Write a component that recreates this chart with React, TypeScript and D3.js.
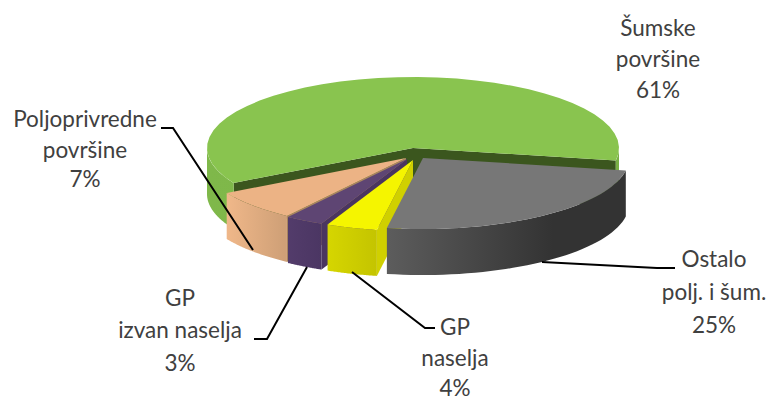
import * as d3 from "d3";

// values, clockwise starting at the green slice
const categories = ["Šumske površine", "Ostalo polj. i šum.", "GP naselja", "GP izvan naselja", "Poljoprivredne površine"];
const categoryLines = [["Šumske", "površine"], ["Ostalo", "polj. i šum."], ["GP", "naselja"], ["GP", "izvan naselja"], ["Poljoprivredne", "površine"]];
const values = [61, 25, 4, 3, 7];

const topColors = ["#89c44f", "#777777", "#f5f500", "#5e4573", "#ecb385"];
const faceColors = ["#3b561e", "#333333", "#d0d000", "#4a3560", "#a98660"];
const wallStops = [
  ["#7fb84a", "#79b045"],
  ["#5c5c5c", "#333333"],
  ["#d6d600", "#c4c400"],
  ["#533c6b", "#4b3663"],
  ["#efb789", "#cfa077"],
];

// layout
const width = 775;
const height = 401;
const cx = 413;
const cy = 148;
const rx = 206;
const ry = 71;
const depth = 46;
const startDeg = 240.5;
const drawOrder = [0, 4, 3, 2, 1];
const explode = [[0, 0], [10, 10], [0, 12], [-6, 11], [-7, 10]];
const wallGradX = [[-rx, rx], [-34, 130], [-86, -36], [-120, -86], [-178, -122]];
const labelPos = [
  { x: 658, y: [36, 67, 98] },
  { x: 714, y: [267, 300, 333] },
  { x: 455, y: [335, 366, 396] },
  { x: 180, y: [306, 338, 371] },
  { x: 85, y: [127, 158, 187] },
];
const leaders: [number, number][][] = [
  [],
  [[675, 268], [657, 268], [542, 262]],
  [[435, 328], [425, 328], [352, 272]],
  [[254, 339], [267, 339], [307, 267]],
  [[161, 128], [173, 128], [253, 250]],
];

const toRad = Math.PI / 180;
const pie = d3.pie<number>().sort(null).startAngle(startDeg * toRad).endAngle((startDeg + 360) * toRad);
const slices = pie(values);

const pt = (a: number): [number, number] => [rx * Math.sin(a), -ry * Math.cos(a)];
const rim = (a0: number, a1: number) => d3.range(0, 41).map((i) => pt(a0 + ((a1 - a0) * i) / 40));
const line = d3.line();

// top of a slice
const topPath = (a0: number, a1: number) => line([[0, 0], ...rim(a0, a1)]) + "Z";

// outer wall, only the part of the rim that faces the viewer
const wallPaths = (a0: number, a1: number) => {
  const paths: string[] = [];
  [[Math.PI / 2, 1.5 * Math.PI], [2.5 * Math.PI, 3.5 * Math.PI]].forEach(([lo, hi]) => {
    const s = Math.max(a0, lo);
    const e = Math.min(a1, hi);
    if (e <= s) return;
    const upper = rim(s, e);
    const lower = upper.map(([x, y]) => [x, y + depth] as [number, number]).reverse();
    paths.push(line([...upper, ...lower]) + "Z");
  });
  return paths;
};

// cut face from the centre to the rim
const facePath = (a: number) => {
  const [x, y] = pt(a);
  return line([[0, 0], [x, y], [x, y + depth], [0, depth]]) + "Z";
};

// which cut faces can be seen: the wedge's side turned towards the viewer
const visibleFaces = (a0: number, a1: number) => {
  if (a1 - a0 > Math.PI) return [a0, a1];
  return Math.sin(a0) < 0 ? [a0] : [];
};

export default function App() {
  return (
    <svg width={width} height={height} style={{ position: "absolute", left: 0, top: 0, background: "#fff" }}>
      <defs>
        {wallStops.map((s, i) => (
          <linearGradient key={i} id={`wall${i}`} gradientUnits="userSpaceOnUse" x1={wallGradX[i][0]} x2={wallGradX[i][1]} y1={0} y2={0}>
            <stop offset="0" stopColor={s[0]} />
            <stop offset="1" stopColor={s[1]} />
          </linearGradient>
        ))}
      </defs>
      {drawOrder.map((i) => {
        const d = slices[i];
        return (
          <g key={categories[i]} transform={`translate(${cx + explode[i][0]},${cy + explode[i][1]})`}>
            {visibleFaces(d.startAngle, d.endAngle).map((a, k) => (
              <path key={k} d={facePath(a)} fill={faceColors[i]} />
            ))}
            {wallPaths(d.startAngle, d.endAngle).map((p, k) => (
              <path key={k} d={p} fill={`url(#wall${i})`} />
            ))}
            <path d={topPath(d.startAngle, d.endAngle)} fill={topColors[i]} />
          </g>
        );
      })}
      {leaders.map((l, i) =>
        l.length ? <path key={i} d={line(l) ?? ""} fill="none" stroke="#000" strokeWidth={2} /> : null
      )}
      {categoryLines.map((lines, i) => (
        <text key={i} textAnchor="middle" fontFamily="Lato" fontSize={22.5} fill="#404040">
          {[...lines, `${values[i]}%`].map((t, k) => (
            <tspan key={k} x={labelPos[i].x} y={labelPos[i].y[k]}>
              {t}
            </tspan>
          ))}
        </text>
      ))}
    </svg>
  );
}
